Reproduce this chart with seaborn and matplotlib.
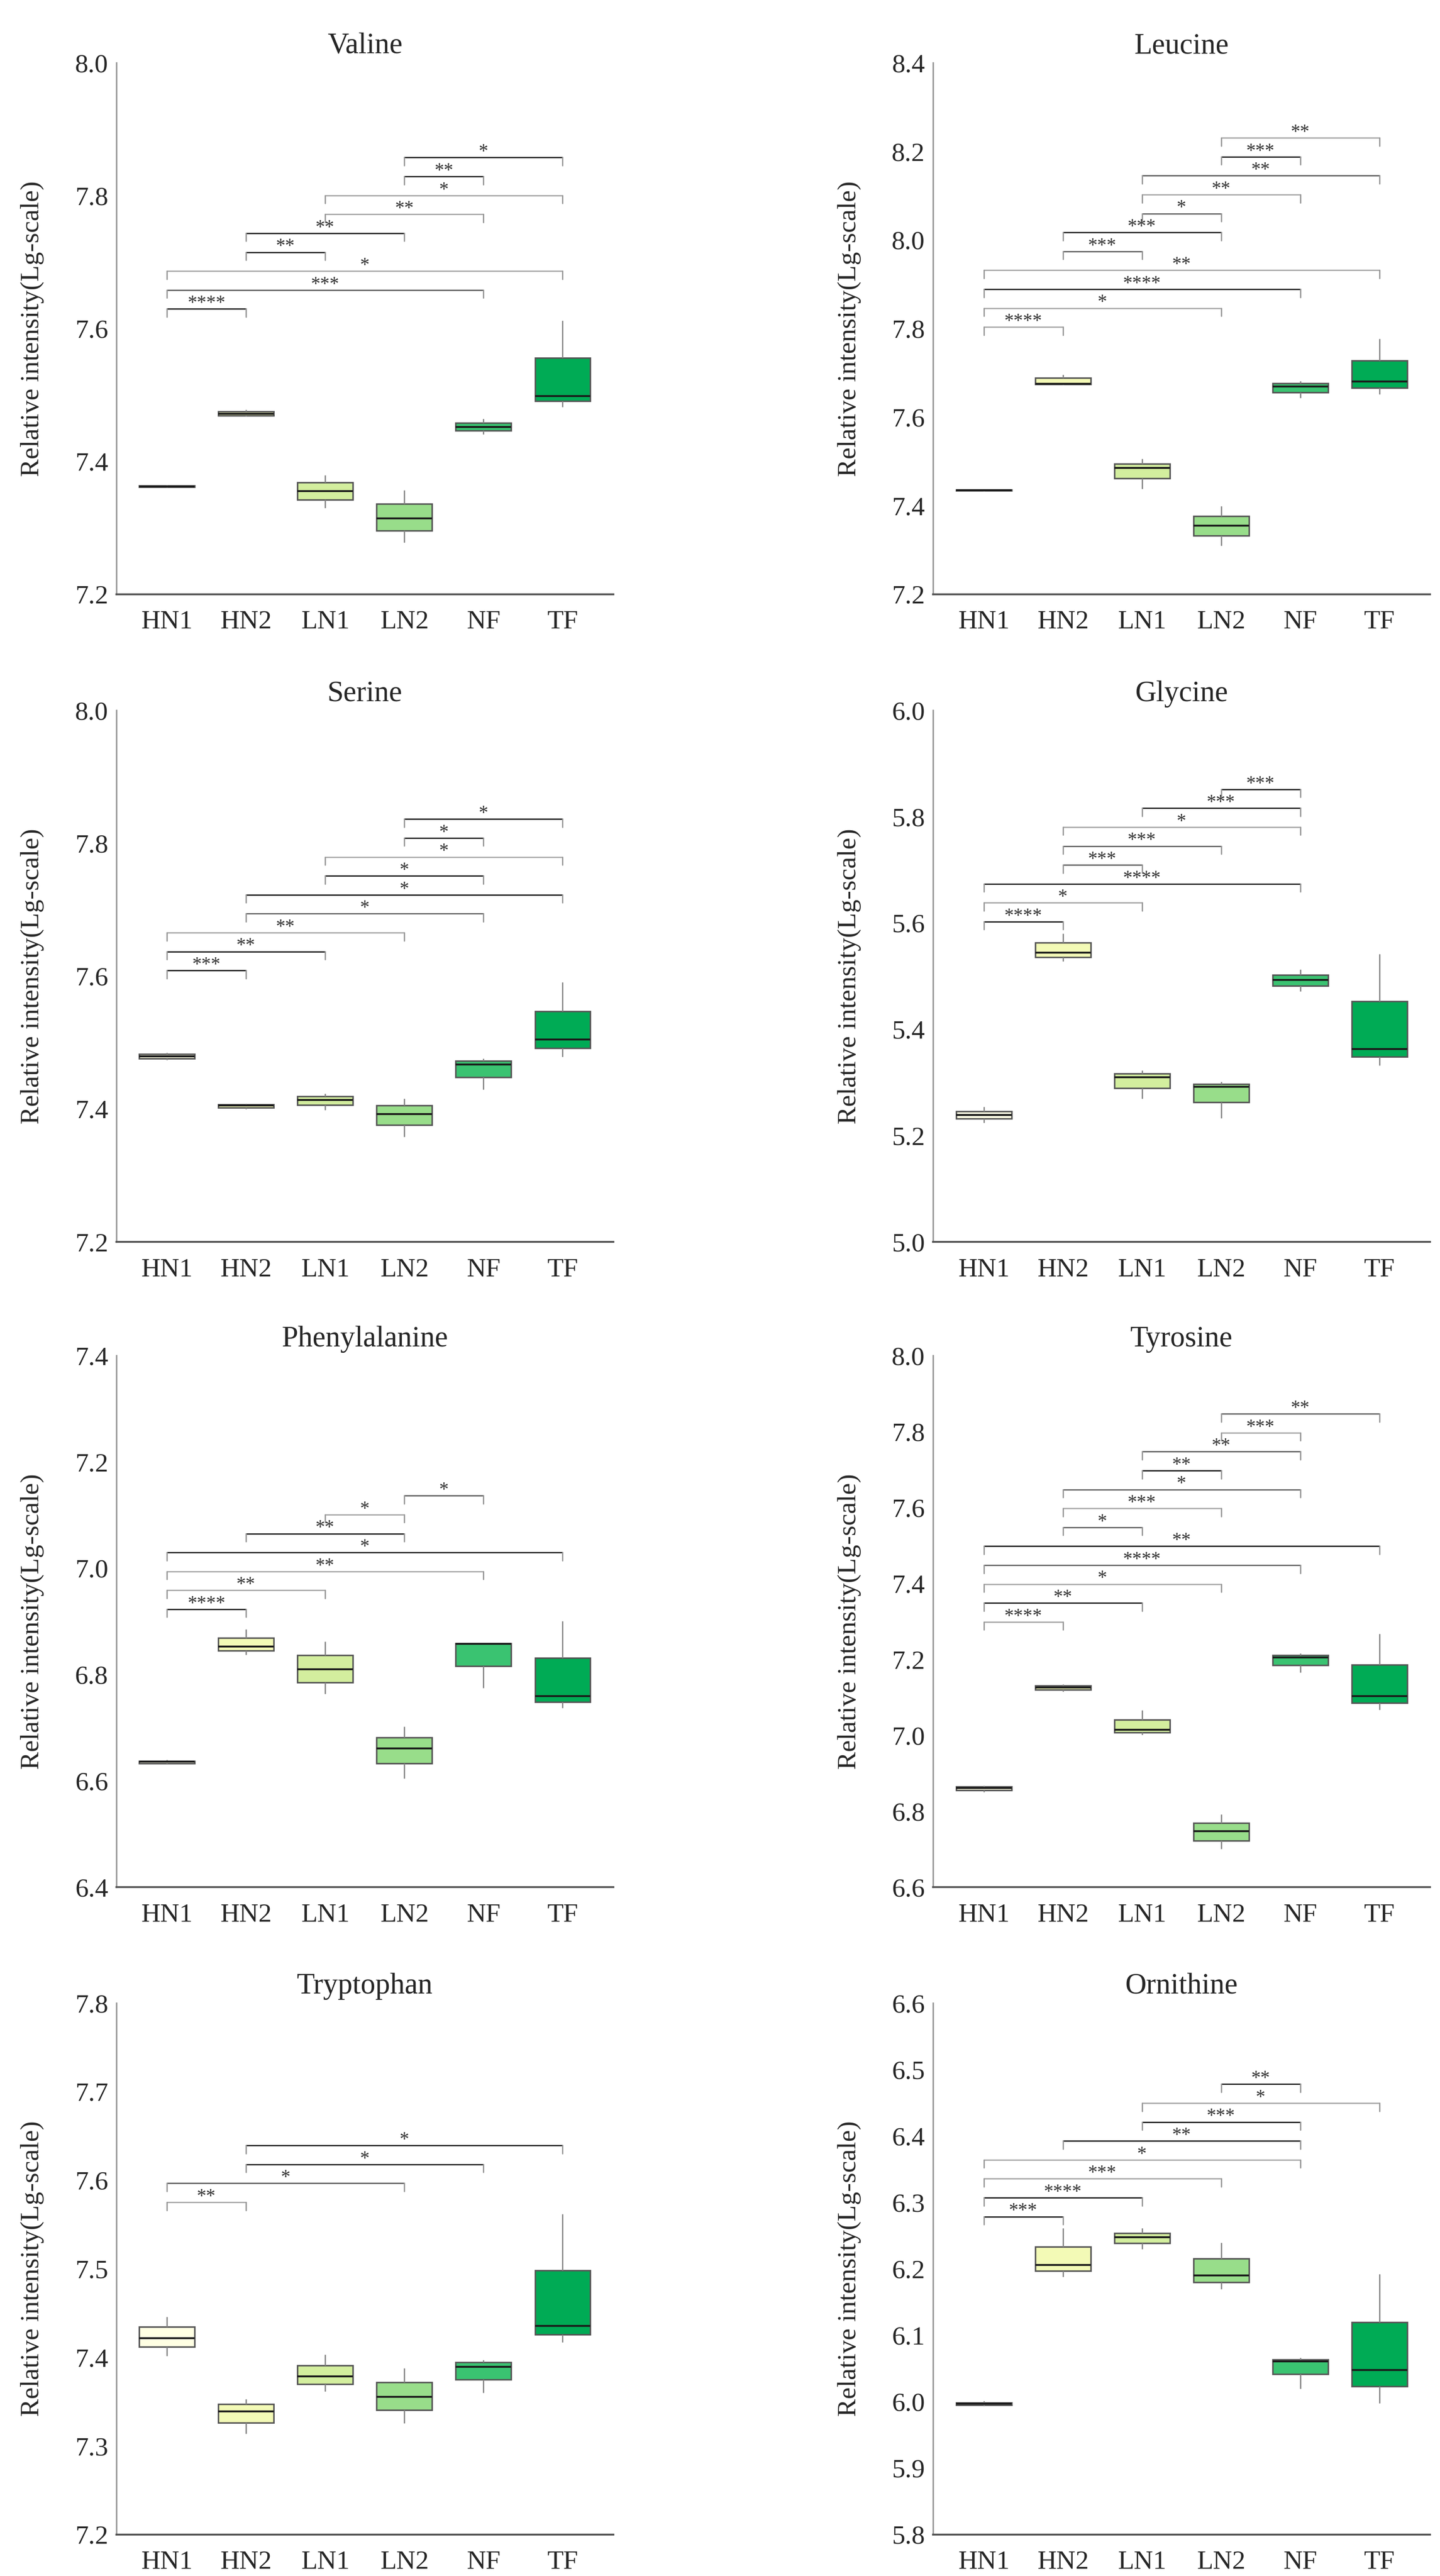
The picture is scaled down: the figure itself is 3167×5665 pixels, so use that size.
import numpy as np
import pandas as pd
import matplotlib
matplotlib.use("Agg")
import matplotlib.pyplot as plt
import seaborn as sns

groups = ["HN1", "HN2", "LN1", "LN2", "NF", "TF"]
colors = ["#FFFFE3", "#F3FAB6", "#D3EE9E", "#98DD8A", "#3AC371", "#00AB55"]

# five-number summaries per group: [low whisker, q1, median, q3, high whisker]
valine = [
    [7.3605, 7.3615, 7.3625, 7.3635, 7.3645],
    [7.468, 7.469, 7.472, 7.475, 7.478],
    [7.330, 7.342, 7.355, 7.368, 7.379],
    [7.278, 7.296, 7.314, 7.336, 7.357],
    [7.441, 7.4466, 7.452, 7.458, 7.4645],
    [7.482, 7.491, 7.4985, 7.556, 7.612],
]
leucine = [
    [7.433, 7.434, 7.435, 7.436, 7.437],
    [7.673, 7.674, 7.675, 7.689, 7.696],
    [7.4385, 7.462, 7.485, 7.495, 7.506],
    [7.3095, 7.332, 7.355, 7.377, 7.3995],
    [7.643, 7.6556, 7.6695, 7.676, 7.681],
    [7.652, 7.666, 7.680, 7.728, 7.777],
]
serine = [
    [7.474, 7.476, 7.4795, 7.4826, 7.485],
    [7.400, 7.402, 7.4055, 7.407, 7.4085],
    [7.3987, 7.406, 7.4135, 7.419, 7.4234],
    [7.358, 7.376, 7.3925, 7.4055, 7.416],
    [7.4295, 7.448, 7.467, 7.4727, 7.476],
    [7.479, 7.492, 7.505, 7.547, 7.591],
]
glycine = [
    [5.224, 5.232, 5.2385, 5.2455, 5.254],
    [5.528, 5.536, 5.544, 5.563, 5.5805],
    [5.270, 5.2895, 5.310, 5.317, 5.3227],
    [5.233, 5.2625, 5.292, 5.297, 5.301],
    [5.4717, 5.4817, 5.4933, 5.5026, 5.513],
    [5.332, 5.348, 5.363, 5.4524, 5.542],
]
phenylalanine = [
    [6.631, 6.6327, 6.636, 6.6373, 6.6396],
    [6.8375, 6.845, 6.853, 6.869, 6.8855],
    [6.764, 6.785, 6.81, 6.8368, 6.862],
    [6.605, 6.6327, 6.661, 6.682, 6.702],
    [6.775, 6.816, 6.8576, 6.859, 6.86],
    [6.737, 6.748, 6.7595, 6.8313, 6.901],
]
tyrosine = [
    [6.850, 6.8556, 6.861, 6.8653, 6.8675],
    [7.1155, 7.1198, 7.1263, 7.1307, 7.135],
    [7.0018, 7.0072, 7.0148, 7.0408, 7.0668],
    [6.7007, 6.7224, 6.7473, 6.769, 6.7917],
    [7.1653, 7.1848, 7.2054, 7.2108, 7.2162],
    [7.0678, 7.0852, 7.1036, 7.186, 7.268],
]
tryptophan = [
    [7.4018, 7.412, 7.4218, 7.4343, 7.446],
    [7.3137, 7.326, 7.339, 7.347, 7.353],
    [7.3615, 7.3698, 7.3786, 7.3907, 7.4032],
    [7.3257, 7.3406, 7.3555, 7.372, 7.388],
    [7.360, 7.3749, 7.3893, 7.3944, 7.3972],
    [7.417, 7.426, 7.4357, 7.4984, 7.562],
]
ornithine = [
    [5.9937, 5.995, 5.9968, 5.9987, 6.0012],
    [6.188, 6.1967, 6.206, 6.2332, 6.261],
    [6.230, 6.2389, 6.2475, 6.254, 6.261],
    [6.1695, 6.180, 6.19, 6.2153, 6.2395],
    [6.0197, 6.0414, 6.0606, 6.0637, 6.0662],
    [5.998, 6.0228, 6.0476, 6.1194, 6.1918],
]

# significance brackets, bottom to top: (group a, group b, stars)
valine_sig = [(0, 1, "****"), (0, 4, "***"), (0, 5, "*"), (1, 2, "**"), (1, 3, "**"),
              (2, 4, "**"), (2, 5, "*"), (3, 4, "**"), (3, 5, "*")]
leucine_sig = [(0, 1, "****"), (0, 3, "*"), (0, 4, "****"), (0, 5, "**"), (1, 2, "***"),
               (1, 3, "***"), (2, 3, "*"), (2, 4, "**"), (2, 5, "**"), (3, 4, "***"), (3, 5, "**")]
serine_sig = [(0, 1, "***"), (0, 2, "**"), (0, 3, "**"), (1, 4, "*"), (1, 5, "*"),
              (2, 4, "*"), (2, 5, "*"), (3, 4, "*"), (3, 5, "*")]
glycine_sig = [(0, 1, "****"), (0, 2, "*"), (0, 4, "****"), (1, 2, "***"), (1, 3, "***"),
               (1, 4, "*"), (2, 4, "***"), (3, 4, "***")]
phe_sig = [(0, 1, "****"), (0, 2, "**"), (0, 4, "**"), (0, 5, "*"), (1, 3, "**"),
           (2, 3, "*"), (3, 4, "*")]
tyr_sig = [(0, 1, "****"), (0, 2, "**"), (0, 3, "*"), (0, 4, "****"), (0, 5, "**"),
           (1, 2, "*"), (1, 3, "***"), (1, 4, "*"), (2, 3, "**"), (2, 4, "**"),
           (3, 4, "***"), (3, 5, "**")]
trp_sig = [(0, 1, "**"), (0, 3, "*"), (1, 4, "*"), (1, 5, "*")]
orn_sig = [(0, 1, "***"), (0, 2, "****"), (0, 3, "***"), (0, 4, "*"), (1, 4, "**"),
           (2, 4, "***"), (2, 5, "*"), (3, 4, "**")]

# line shade of each bracket (d dark, m mid, g light)
shades = {"d": "#222222", "m": "#666666", "g": "#aaaaaa"}

panels = [
    ("Valine", valine, valine_sig, "dmgddggdd", 7.2, 8.0, 0.2),
    ("Leucine", leucine, leucine_sig, "ggdgmdmgmdg", 7.2, 8.4, 0.2),
    ("Serine", serine, serine_sig, "ddgmddgdd", 7.2, 8.0, 0.2),
    ("Glycine", glycine, glycine_sig, "dgdmmgdd", 5.0, 6.0, 0.2),
    ("Phenylalanine", phenylalanine, phe_sig, "dggddgm", 6.4, 7.4, 0.2),
    ("Tyrosine", tyrosine, tyr_sig, "gdgmdmgmdmgm", 6.6, 8.0, 0.2),
    ("Tryptophan", tryptophan, trp_sig, "gmdd", 7.2, 7.8, 0.1),
    ("Ornithine", ornithine, orn_sig, "ddggddgd", 5.8, 6.6, 0.1),
]

sns.set_style("white")
plt.rcParams["font.family"] = ["Liberation Serif", "DejaVu Serif"]

fig = plt.figure(figsize=(3167 / 300, 5665 / 300), dpi=300)
col_x = [0.0808, 0.648]
row_y = [0.7693, 0.5179, 0.2674, 0.0161]
ax_w, ax_h = 0.3451, 0.2063

for k, (title, stats, sig, shade, ylo, yhi, ystep) in enumerate(panels):
    ax = fig.add_axes([col_x[k % 2], row_y[k // 2], ax_w, ax_h])
    df = pd.DataFrame({"group": np.repeat(groups, 5), "value": np.ravel(stats)})
    sns.boxplot(data=df, x="group", y="value", hue="group", order=groups,
                hue_order=groups, palette=colors, saturation=1, legend=False,
                width=0.7, whis=(0, 100), linewidth=0.8, linecolor="#555555",
                showcaps=False, ax=ax,
                medianprops=dict(color="#1a1a1a", linewidth=1.0),
                whiskerprops=dict(color="#888888", linewidth=0.7))

    ax.set_xlim(-0.64, 5.64)
    ax.set_ylim(ylo, yhi)
    ticks = np.round(np.arange(ylo, yhi + ystep / 2, ystep), 2)
    ax.set_yticks(ticks)
    ax.set_yticklabels([f"{t:.1f}" for t in ticks])

    for s in ["top", "right"]:
        ax.spines[s].set_visible(False)
    ax.spines["left"].set_color("#999999")
    ax.spines["left"].set_linewidth(0.8)
    ax.spines["bottom"].set_color("#555555")
    ax.spines["bottom"].set_linewidth(1.0)
    ax.tick_params(axis="y", length=2.8, width=0.7, color="#555555", pad=1.5, labelsize=14)
    ax.tick_params(axis="x", length=3.5, width=0.7, color="#888888", pad=5, labelsize=14)

    ax.set_xlabel("")
    ax.set_ylabel("Relative intensity(Lg-scale)", fontsize=14)
    ax.yaxis.set_label_coords(-0.145, 0.5)
    ax.set_title(title, fontsize=15.5, pad=5)

    # brackets stacked above the highest whisker
    top = max(g[4] for g in stats)
    base = (top - ylo) / (yhi - ylo) + 0.022
    trans = ax.get_xaxis_transform()
    for n, (a, b, stars) in enumerate(sig):
        yb = base + n * 0.0356
        ax.plot([a, b], [yb, yb], transform=trans, color=shades[shade[n]], lw=0.7)
        ax.plot([a, a], [yb, yb - 0.015], transform=trans, color="#999999", lw=0.7)
        ax.plot([b, b], [yb, yb - 0.015], transform=trans, color="#999999", lw=0.7)
        ax.text((a + b) / 2, yb + 0.001, stars, transform=trans, ha="center",
                va="baseline", fontsize=10, color="#333333")

fig.savefig("out.png", dpi=300)
